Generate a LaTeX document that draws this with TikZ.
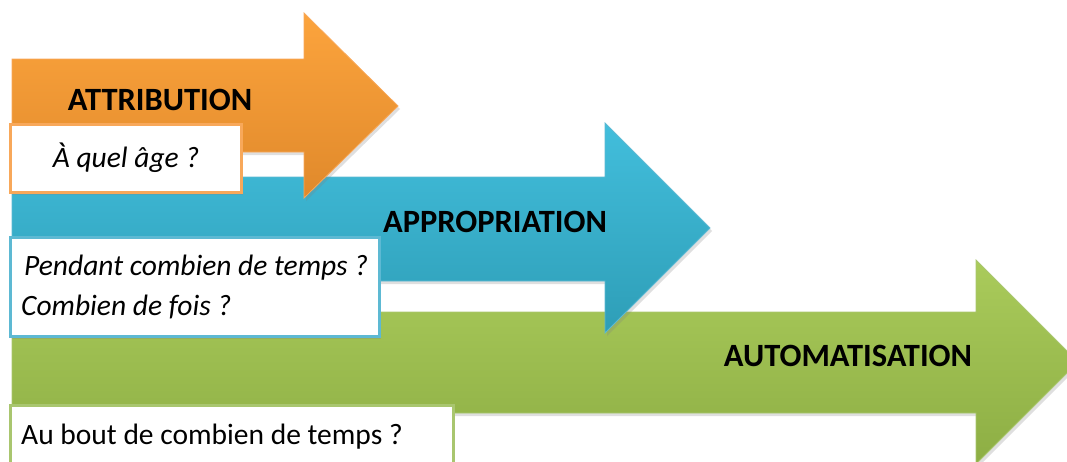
\documentclass[tikz,border=0pt]{standalone}
\usepackage{fontspec}
\setmainfont{Carlito}
\usetikzlibrary{shadows}
\definecolor{orTop}{HTML}{FCA43D}
\definecolor{orBot}{HTML}{E0892B}
\definecolor{orLine}{HTML}{F8A85A}
\definecolor{blTop}{HTML}{42BEDC}
\definecolor{blBot}{HTML}{2E9EB7}
\definecolor{blLine}{HTML}{5DB9D3}
\definecolor{grTop}{HTML}{AACB5B}
\definecolor{grBot}{HTML}{8DAE44}
\definecolor{grLine}{HTML}{A9C66F}
\tikzset{
  arrowshape/.style={line width=0.8pt, drop shadow={shadow xshift=2pt, shadow yshift=-3pt, opacity=0.25}},
  qbox/.style={fill=white, line width=3pt, drop shadow={shadow xshift=2pt, shadow yshift=-3pt, opacity=0.25}},
  title/.style={font=\fontsize{32.5}{35}\selectfont\bfseries, inner sep=0pt},
  qtext/.style={font=\fontsize{29.5}{32}\selectfont\itshape, inner sep=0pt, anchor=west},
  qplain/.style={font=\fontsize{29.5}{32}\selectfont, inner sep=0pt, anchor=west}
}
\begin{document}
\begin{tikzpicture}[x=1pt,y=-1pt]
\useasboundingbox (0,0) rectangle (1067,461);
\clip (0,0) rectangle (1067,461);
% green arrow
\draw[arrowshape, draw=grLine, top color=grTop, bottom color=grBot]
  (12,312) -- (976,312) -- (976,260) -- (1078,362) -- (976,464) -- (976,413) -- (12,413) -- cycle;
\draw[qbox, draw=grLine] (10,405) rectangle (453,475);
% blue arrow
\draw[arrowshape, draw=blLine, top color=blTop, bottom color=blBot]
  (12,177) -- (605,177) -- (605,123) -- (710,228) -- (605,333) -- (605,281) -- (12,281) -- cycle;
\draw[qbox, draw=blLine] (10,237) rectangle (379,336);
% orange arrow
\draw[arrowshape, draw=orLine, top color=orTop, bottom color=orBot]
  (12,59) -- (304,59) -- (304,13) -- (398,106) -- (304,198) -- (304,152) -- (12,152) -- cycle;
\draw[qbox, draw=orLine] (10,124) rectangle (241,192);
% texts
\node[title] (t1) at (160,100) {ATTRIBUTION};
\node[title] (t2) at (495,222) {APPROPRIATION};
\node[title] (t3) at (848,356) {AUTOMATISATION};
\node[qtext, anchor=center] (q1) at (126,158) {À quel âge ?};
\node[qtext] (q2) at (24,268) {Pendant combien de temps ?};
\node[qtext] (q3) at (21,307) {Combien de fois ?};
\node[qplain] (q4) at (21,437) {Au bout de combien de temps ?};
\end{tikzpicture}
\end{document}
